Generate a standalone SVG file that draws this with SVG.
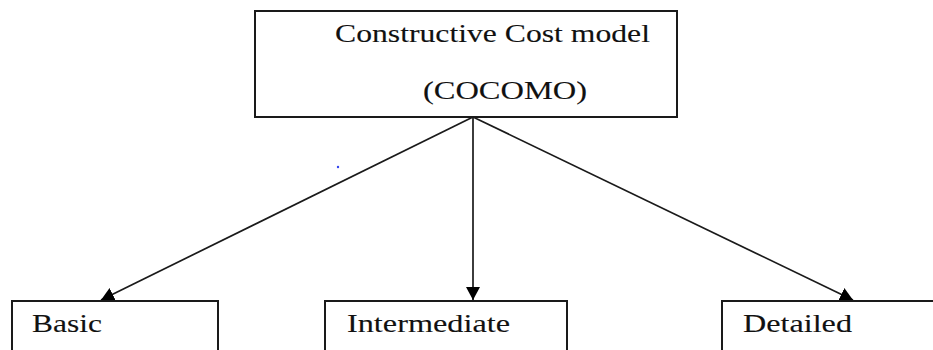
<svg xmlns="http://www.w3.org/2000/svg" width="933" height="350" viewBox="0 0 933 350">
  <style>
    .box { fill: #ffffff; stroke: #1a1a1a; stroke-width: 2; }
    .lbl { font-family: "Liberation Serif", "Times New Roman", serif; font-size: 25px; fill: #111111; stroke: #111111; stroke-width: 0.12; }
    .edge { stroke: #1a1a1a; stroke-width: 1.7; fill: none; marker-end: url(#head); }
  </style>
  <defs>
    <marker id="head" markerUnits="userSpaceOnUse" markerWidth="14" markerHeight="14" refX="13" refY="7" orient="auto">
      <path d="M0,0 L13,7 L0,14 z" fill="#000000"/>
    </marker>
  </defs>
  <rect width="933" height="350" fill="#ffffff"/>

  <g id="connectors">
    <line class="edge" x1="473" y1="117" x2="101" y2="300"/>
    <line class="edge" x1="473" y1="117" x2="473" y2="300"/>
    <line class="edge" x1="473" y1="117" x2="853" y2="300"/>
  </g>

  <g id="cocomo">
    <rect class="box" x="255" y="11" width="422" height="106"/>
    <text class="lbl" x="335" y="42" textLength="315" lengthAdjust="spacingAndGlyphs">Constructive Cost model</text>
    <text class="lbl" x="423" y="99" textLength="164" lengthAdjust="spacingAndGlyphs">(COCOMO)</text>
  </g>

  <g id="basic">
    <rect class="box" x="12" y="301" width="206" height="60"/>
    <text class="lbl" x="32" y="332" textLength="70" lengthAdjust="spacingAndGlyphs">Basic</text>
  </g>

  <g id="intermediate">
    <rect class="box" x="325" y="301" width="242" height="60"/>
    <text class="lbl" x="347" y="332" textLength="163" lengthAdjust="spacingAndGlyphs">Intermediate</text>
  </g>

  <g id="detailed">
    <rect class="box" x="722" y="301" width="240" height="60"/>
    <text class="lbl" x="743" y="332" textLength="109" lengthAdjust="spacingAndGlyphs">Detailed</text>
  </g>

  <circle cx="338" cy="167" r="1.2" fill="#3344ee"/>
</svg>
